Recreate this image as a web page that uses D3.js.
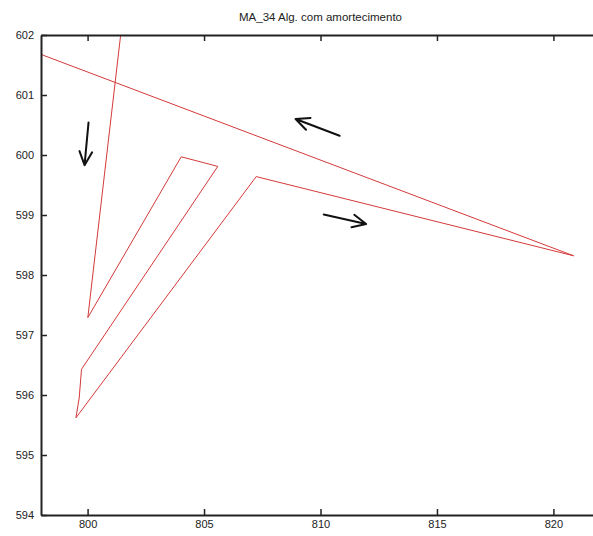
<!DOCTYPE html>
<head>
  <meta charset="utf-8">
  <style>
    body { margin:0; background:#fff; }
    text { font-family:"Liberation Sans", Arial, sans-serif; fill:#222; }
    #title { font-size:11.5px; }
  </style>
</head>
<body>
<script src="https://d3js.org/d3.v7.min.js"></script>
<script>

  // DATA
  var pathX = [801.57, 800.01, 804.02, 805.59, 799.74, 799.64, 799.50, 807.24, 820.87, 797.50];
  var pathY = [602.50, 597.29, 599.97, 599.81, 596.43, 595.95, 595.62, 599.64, 598.32, 601.75];

  // arrows drawn over the plot: tail -> tip
  var arrowTailX = [800.04, 810.82, 810.14];
  var arrowTailY = [600.54, 600.32, 599.01];
  var arrowTipX  = [799.87, 808.93, 811.96];
  var arrowTipY  = [599.83, 600.60, 598.85];

  var xTicks = [800, 805, 810, 815, 820];
  var yTicks = [594, 595, 596, 597, 598, 599, 600, 601, 602];

  // DIMENSIONS
  var width = 593, height = 536;
  var plotLeft = 41, plotRight = 600, plotTop = 35, plotBottom = 515;

  var svg = d3.select("body").append("svg")
    .attr("width", width)
    .attr("height", height);

  var x = d3.scaleLinear().domain([798, 822]).range([plotLeft, plotRight]);
  var y = d3.scaleLinear().domain([594, 602]).range([plotBottom, plotTop]);

  // clip
  svg.append("clipPath").attr("id", "clip")
    .append("rect")
    .attr("x", plotLeft).attr("y", plotTop)
    .attr("width", plotRight - plotLeft).attr("height", plotBottom - plotTop);

  // red trajectory
  var line = d3.line()
    .x(function(d) { return x(d[0]); })
    .y(function(d) { return y(d[1]); });

  svg.append("path")
    .datum(d3.zip(pathX, pathY))
    .attr("clip-path", "url(#clip)")
    .attr("fill", "none")
    .attr("stroke", "#d43a3a")
    .attr("stroke-width", 1)
    .attr("d", line);

  // AXES
  function styleAxis(g) {
    g.select(".domain").attr("stroke", "#222").attr("stroke-width", 2);
    g.selectAll(".tick line").attr("stroke", "#222").attr("stroke-width", 1.5);
    g.selectAll(".tick text").attr("fill", "#222").style("font-size", "11px");
  }

  svg.append("g")
    .attr("transform", "translate(0," + plotBottom + ")")
    .call(d3.axisBottom(x).tickValues(xTicks).tickSizeInner(-6).tickSizeOuter(0).tickPadding(5))
    .call(styleAxis);

  svg.append("g")
    .attr("transform", "translate(0," + plotTop + ")")
    .call(d3.axisTop(x).tickValues(xTicks).tickSizeInner(-6).tickSizeOuter(0).tickFormat(""))
    .call(styleAxis);

  svg.append("g")
    .attr("transform", "translate(" + plotLeft + ",0)")
    .call(d3.axisLeft(y).tickValues(yTicks).tickSizeInner(-6).tickSizeOuter(0).tickPadding(7))
    .call(styleAxis);

  svg.append("g")
    .attr("transform", "translate(" + plotRight + ",0)")
    .call(d3.axisRight(y).tickValues(yTicks).tickSizeInner(-6).tickSizeOuter(0).tickFormat(""))
    .call(styleAxis);

  // TITLE
  svg.append("text")
    .attr("id", "title")
    .attr("x", (plotLeft + plotRight) / 2)
    .attr("y", 21)
    .attr("text-anchor", "middle")
    .text("MA_34 Alg. com amortecimento");

  // ARROWS
  var headLen = 15, headAng = 25 * Math.PI / 180;
  arrowTipX.forEach(function(tx, i) {
    var x0 = x(arrowTailX[i]), y0 = y(arrowTailY[i]),
        x1 = x(tx), y1 = y(arrowTipY[i]);
    var a = Math.atan2(y0 - y1, x0 - x1);
    var d = "M" + x0 + "," + y0 + "L" + x1 + "," + y1 +
      "M" + (x1 + headLen * Math.cos(a + headAng)) + "," + (y1 + headLen * Math.sin(a + headAng)) +
      "L" + x1 + "," + y1 +
      "L" + (x1 + headLen * Math.cos(a - headAng)) + "," + (y1 + headLen * Math.sin(a - headAng));
    svg.append("path")
      .attr("d", d)
      .attr("fill", "none")
      .attr("stroke", "#111")
      .attr("stroke-width", 2)
      .attr("stroke-linecap", "round")
      .attr("stroke-linejoin", "round");
  });

</script>
</body>
